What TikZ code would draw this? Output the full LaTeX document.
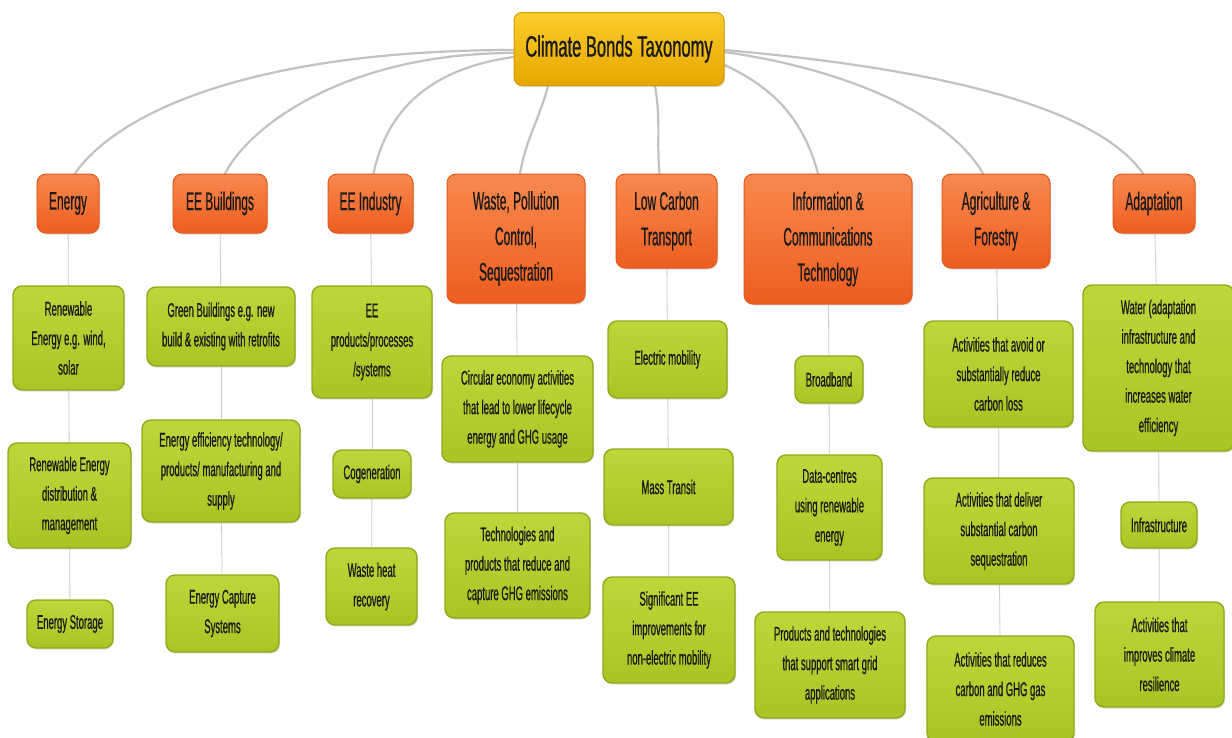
\documentclass[tikz,border=0pt]{standalone}
\usepackage{fontspec}
\setmainfont[FakeStretch=0.48,FakeBold=0.6]{Liberation Sans}
\newfontfamily\titlefont[FakeStretch=0.56,FakeBold=0.8]{Liberation Sans}
\newfontfamily\catfont[FakeStretch=0.47,FakeBold=0.6]{Liberation Sans}
\usetikzlibrary{shadows,backgrounds}
\definecolor{gtop}{HTML}{BDD73A}
\definecolor{gbot}{HTML}{A9C523}
\definecolor{gborder}{HTML}{8FAA1C}
\definecolor{otop}{HTML}{F8894F}
\definecolor{obot}{HTML}{EE5D1F}
\definecolor{oborder}{HTML}{E2591C}
\definecolor{rtop}{HTML}{F9CD2C}
\definecolor{rbot}{HTML}{E8A600}
\definecolor{rborder}{HTML}{D49A08}
\definecolor{curvecol}{HTML}{C2C2C2}
\definecolor{linecol}{HTML}{CCCCCC}
\definecolor{txt}{HTML}{1A1A1A}
\tikzset{
  basebox/.style={rounded corners=9pt, align=center, inner sep=0pt, text=txt,
    drop shadow={opacity=0.25, shadow xshift=1pt, shadow yshift=-1.5pt}},
  gbox/.style={basebox, top color=gtop, bottom color=gbot, draw=gborder, line width=1.4pt,
    font=\fontsize{19.8}{29.5}\selectfont},
  obox/.style={basebox, top color=otop, bottom color=obot, draw=oborder, line width=1pt,
    font=\catfont\fontsize{25.5}{35.5}\selectfont},
  rbox/.style={basebox, rounded corners=8pt, top color=rtop, bottom color=rbot, draw=rborder, line width=1pt,
    font=\titlefont\fontsize{29.5}{32}\selectfont},
  curve/.style={draw=curvecol, line width=2.2pt, line cap=round},
  vline/.style={draw=linecol, line width=0.8pt},
}
\newcommand{\bx}[6]{\node[#1, minimum width=#4pt, minimum height=#5pt] (#2) at (#3) {#6};}
\begin{document}
\begin{tikzpicture}[x=1pt,y=1pt]
\clip (0,0) rectangle (1232,-737);
% root
\bx{rbox}{root}{619,-49}{210}{73}{Climate Bonds Taxonomy}
% categories
\bx{obox}{energy}{68,-203.5}{62}{59}{Energy}
\bx{obox}{eeb}{220,-203.5}{94}{59}{EE Buildings}
\bx{obox}{eei}{370.5,-203.5}{85}{59}{EE Industry}
\bx{obox}{waste}{516,-238.5}{138}{129}{Waste, Pollution\\Control,\\Sequestration}
\bx{obox}{lct}{666.5,-221}{101}{94}{Low Carbon\\Transport}
\bx{obox}{ict}{828,-239}{168}{130}{Information \&\\Communications\\Technology}
\bx{obox}{agri}{996,-221}{108}{94}{Agriculture \&\\Forestry}
\bx{obox}{adapt}{1154,-203.5}{82}{59}{Adaptation}
% energy column
\bx{gbox}{e1}{68.5,-338}{111}{104}{Renewable\\Energy e.g. wind,\\solar}
\bx{gbox}{e2}{69.5,-495.5}{123}{105}{Renewable Energy\\distribution \&\\management}
\bx{gbox}{e3}{70,-624}{86}{48}{Energy Storage}
% EE buildings
\bx{gbox}{b1}{221,-326.5}{148}{79}{Green Buildings e.g. new\\build \& existing with retrofits}
\bx{gbox}{b2}{221,-471}{158}{102}{Energy efficiency technology/\\products/ manufacturing and\\supply}
\bx{gbox}{b3}{222.5,-613.5}{113}{77}{Energy Capture\\Systems}
% EE industry
\bx{gbox}{i1}{372,-342}{120}{112}{EE\\products/processes\\/systems}
\bx{gbox}{i2}{372,-474}{78}{48}{Cogeneration}
\bx{gbox}{i3}{371.5,-586.5}{91}{77}{Waste heat\\recovery}
% waste
\bx{gbox}{w1}{517.5,-409}{151}{106}{Circular economy activities\\that lead to lower lifecycle\\energy and GHG usage}
\bx{gbox}{w2}{517.5,-565.5}{145}{105}{Technologies and\\products that reduce and\\capture GHG emissions}
% transport
\bx{gbox}{t1}{667.5,-359.5}{119}{77}{Electric mobility}
\bx{gbox}{t2}{668.5,-487}{129}{76}{Mass Transit}
\bx{gbox}{t3}{669,-630}{132}{106}{Significant EE\\improvements for\\non-electric mobility}
% ICT
\bx{gbox}{c1}{829,-379.5}{68}{47}{Broadband}
\bx{gbox}{c2}{829.5,-507.5}{105}{105}{Data-centres\\using renewable\\energy}
\bx{gbox}{c3}{830,-665}{150}{106}{Products and technologies\\that support smart grid\\applications}
% agriculture
\bx{gbox}{a1}{998.5,-374}{149}{106}{Activities that avoid or\\substantially reduce\\carbon loss}
\bx{gbox}{a2}{999,-531}{150}{106}{Activities that deliver\\substantial carbon\\sequestration}
\bx{gbox}{a3}{1000.5,-689}{147}{106}{Activities that reduces\\carbon and GHG gas\\emissions}
% adaptation
\bx{gbox}{d1}{1158.5,-368}{151}{166}{Water (adaptation\\infrastructure and\\technology that\\increases water\\efficiency}
\bx{gbox}{d2}{1159,-525}{76}{46}{Infrastructure}
\bx{gbox}{d3}{1159.5,-654.5}{129}{105}{Activities that\\improves climate\\resilience}
\begin{pgfonlayer}{background}
\fill[white] (0,0) rectangle (1232,-737);
% curves from root
\draw[curve] ([yshift=-1pt]root.west) to[out=180,in=55,out distance=250pt,in distance=80pt] ([xshift=7pt]energy.north);
\draw[curve] ([yshift=-4pt]root.west) to[out=180,in=62,out distance=160pt,in distance=60pt] ([xshift=5pt]eeb.north);
\draw[curve] ([yshift=-8pt]root.west) to[out=188,in=78,out distance=90pt,in distance=60pt] ([xshift=3pt]eei.north);
\draw[curve] ([xshift=-71pt]root.south) to[out=255,in=80] ([xshift=4pt]waste.north);
\draw[curve] ([xshift=36pt]root.south) to[out=-80,in=95] ([xshift=-7pt]lct.north);
\draw[curve] ([yshift=-16pt]root.east) to[out=-25,in=105,out distance=50pt,in distance=60pt] ([xshift=-10pt]ict.north);
\draw[curve] ([yshift=-3pt]root.east) to[out=-8,in=120,out distance=120pt,in distance=70pt] ([xshift=-13pt]agri.north);
\draw[curve] ([yshift=-1pt]root.east) to[out=-5,in=125,out distance=220pt,in distance=80pt] ([xshift=-11pt]adapt.north);
% vertical connectors
\draw[vline] (energy) -- (e1); \draw[vline] (e1) -- (e2); \draw[vline] (e2) -- (e3);
\draw[vline] (eeb) -- (b1); \draw[vline] (b1) -- (b2); \draw[vline] (b2) -- (b3);
\draw[vline] (eei) -- (i1); \draw[vline] (i1) -- (i2); \draw[vline] (i2) -- (i3);
\draw[vline] (waste) -- (w1); \draw[vline] (w1) -- (w2);
\draw[vline] (lct) -- (t1); \draw[vline] (t1) -- (t2); \draw[vline] (t2) -- (t3);
\draw[vline] (ict) -- (c1); \draw[vline] (c1) -- (c2); \draw[vline] (c2) -- (c3);
\draw[vline] (agri) -- (a1); \draw[vline] (a1) -- (a2); \draw[vline] (a2) -- (a3);
\draw[vline] (adapt) -- (d1); \draw[vline] (d1) -- (d2); \draw[vline] (d2) -- (d3);
\end{pgfonlayer}
\end{tikzpicture}
\end{document}
